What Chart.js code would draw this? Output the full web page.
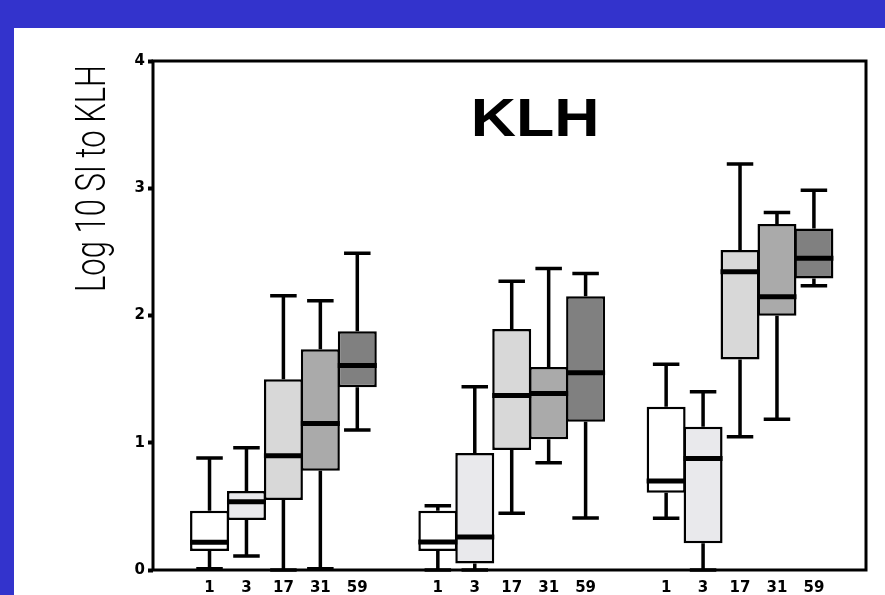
<!DOCTYPE html>
<html lang="en">
<head>
  <meta charset="UTF-8">
  <title>KLH</title>
  <script src="https://cdn.jsdelivr.net/npm/chart.js@4.4.1/dist/chart.umd.min.js"></script>
  <style>
    html, body { margin: 0; padding: 0; background: #3333cc; overflow: hidden; }
    #wrap { position: absolute; left: 14px; top: 28px; width: 871px; height: 567px; background: #fff; }
  </style>
</head>
<body>
  <div id="wrap"><canvas id="myChart" width="871" height="567"></canvas></div>
<script>
  // doses (x tick labels), repeated in each of the 3 groups
  const doses = ['1', '3', '17', '31', '59'];
  const groupCount = 3;

  // box plot values, group 1 -> group 3, 5 doses each
  const whiskerLow  = [0.01, 0.11, 0.00, 0.01, 1.10,   0.00, 0.00, 0.445, 0.843, 0.408,   0.406, 0.00, 1.047, 1.184, 2.233];
  const q1          = [0.149, 0.393, 0.55, 0.78, 1.437,  0.149, 0.052, 0.943, 1.027, 1.165,  0.607, 0.21, 1.655, 1.998, 2.291];
  const median      = [0.218, 0.537, 0.898, 1.152, 1.608, 0.22, 0.26, 1.372, 1.388, 1.55,    0.70, 0.877, 2.343, 2.147, 2.449];
  const q3          = [0.466, 0.62, 1.50, 1.734, 1.877,  0.466, 0.92, 1.893, 1.595, 2.152,   1.283, 1.126, 2.514, 2.72, 2.684];
  const whiskerHigh = [0.88, 0.96, 2.155, 2.115, 2.49,   0.505, 1.44, 2.27, 2.37, 2.33,      1.616, 1.40, 3.19, 2.81, 2.985];

  const yTicks = [0, 1, 2, 3, 4];

  // styling
  const doseColors = ['#ffffff', '#e9e9ec', '#d8d8d8', '#aaaaaa', '#808080'];
  const groupStep = 6.18;

  const positions = [];
  const boxData = [];
  const boxColors = [];
  for (let g = 0; g < groupCount; g++) {
    for (let k = 0; k < doses.length; k++) {
      const i = g * doses.length + k;
      const x = g * groupStep + k;
      positions.push(x);
      boxData.push({ x: x, y: [q1[i], q3[i]] });
      boxColors.push(doseColors[k]);
    }
  }

  const boxPlugin = {
    id: 'boxWhiskers',
    beforeDatasetsDraw(chart) {
      const { ctx, scales: { y } } = chart;
      const meta = chart.getDatasetMeta(0);
      ctx.save();
      ctx.strokeStyle = '#000';
      ctx.lineWidth = 3.5;
      meta.data.forEach((bar, i) => {
        const cx = bar.x;
        const half = bar.width * 0.34;
        const yLo = y.getPixelForValue(whiskerLow[i]);
        const yHi = y.getPixelForValue(whiskerHigh[i]);
        ctx.beginPath();
        ctx.moveTo(cx, yHi); ctx.lineTo(cx, y.getPixelForValue(q3[i]));
        ctx.moveTo(cx, y.getPixelForValue(q1[i])); ctx.lineTo(cx, yLo);
        ctx.moveTo(cx - half, yHi); ctx.lineTo(cx + half, yHi);
        ctx.moveTo(cx - half, yLo); ctx.lineTo(cx + half, yLo);
        ctx.stroke();
      });
      ctx.restore();
    },
    afterDatasetsDraw(chart) {
      const { ctx, scales: { y } } = chart;
      const meta = chart.getDatasetMeta(0);
      ctx.save();
      ctx.strokeStyle = '#000';
      ctx.lineWidth = 5;
      meta.data.forEach((bar, i) => {
        const ym = y.getPixelForValue(median[i]);
        ctx.beginPath();
        ctx.moveTo(bar.x - bar.width / 2, ym);
        ctx.lineTo(bar.x + bar.width / 2, ym);
        ctx.stroke();
      });
      ctx.restore();
    },
    afterDraw(chart) {
      const { ctx, chartArea: a } = chart;
      ctx.save();
      // frame
      ctx.strokeStyle = '#000';
      ctx.lineWidth = 3;
      ctx.strokeRect(a.left, a.top, a.right - a.left, a.bottom - a.top);

      // title inside the plot
      ctx.fillStyle = '#000';
      ctx.font = 'bold 54px "Liberation Sans", Arial, sans-serif';
      ctx.textAlign = 'center';
      ctx.textBaseline = 'alphabetic';
      ctx.save();
      ctx.translate(a.left + (a.right - a.left) * 0.536, a.top + 75);
      ctx.scale(1.16, 1);
      ctx.fillText('KLH', 0, 0);
      ctx.restore();

      // y axis title, narrow and thin
      const label = 'Log 10 SI to KLH';
      ctx.font = '300 43px Roboto, "Liberation Sans", sans-serif';
      const w = ctx.measureText(label).width;
      ctx.save();
      ctx.translate(91, 150.5);
      ctx.rotate(-Math.PI / 2);
      ctx.scale(227 / w, 1);
      ctx.fillText(label, 0, 0);
      ctx.restore();
      ctx.restore();
    }
  };

  const ctx = document.getElementById('myChart').getContext('2d');
  const config = {
    type: 'bar',
    data: {
      datasets: [{
        data: boxData,
        backgroundColor: boxColors,
        borderColor: '#000',
        borderWidth: 2.5,
        borderSkipped: false,
        barPercentage: 1.055,
        categoryPercentage: 1
      }]
    },
    options: {
      responsive: false,
      animation: false,
      devicePixelRatio: 1,
      layout: { padding: { left: 0, top: 33, right: 19, bottom: 0 } },
      plugins: {
        legend: { display: false },
        tooltip: { enabled: false }
      },
      scales: {
        x: {
          type: 'linear',
          offset: false,
          min: -1.53,
          max: (groupCount - 1) * groupStep + doses.length - 0.5 + 0.91,
          grid: { display: false },
          border: { display: false },
          afterBuildTicks: function(scale) {
            scale.ticks = positions.map(v => ({ value: v }));
          },
          afterFit: function(scale) { scale.height = 25; },
          ticks: {
            autoSkip: false,
            maxRotation: 0,
            padding: 1,
            color: '#000',
            font: { family: '"DejaVu Sans", sans-serif', size: 15, weight: 'bold' },
            callback: function(value) {
              const i = positions.indexOf(value);
              return i < 0 ? '' : doses[i % doses.length];
            }
          }
        },
        y: {
          min: 0,
          max: 4,
          border: { display: false },
          grid: {
            drawOnChartArea: false,
            drawTicks: true,
            tickLength: 5,
            tickWidth: 4,
            tickColor: '#000'
          },
          afterBuildTicks: function(scale) {
            scale.ticks = yTicks.map(v => ({ value: v }));
          },
          afterFit: function(scale) { scale.width = 139; },
          ticks: {
            padding: 3,
            color: '#000',
            font: { family: '"DejaVu Sans", sans-serif', size: 15, weight: 'bold' }
          }
        }
      }
    },
    plugins: [boxPlugin]
  };

  const myChart = new Chart(ctx, config);
</script>
</body>
</html>
